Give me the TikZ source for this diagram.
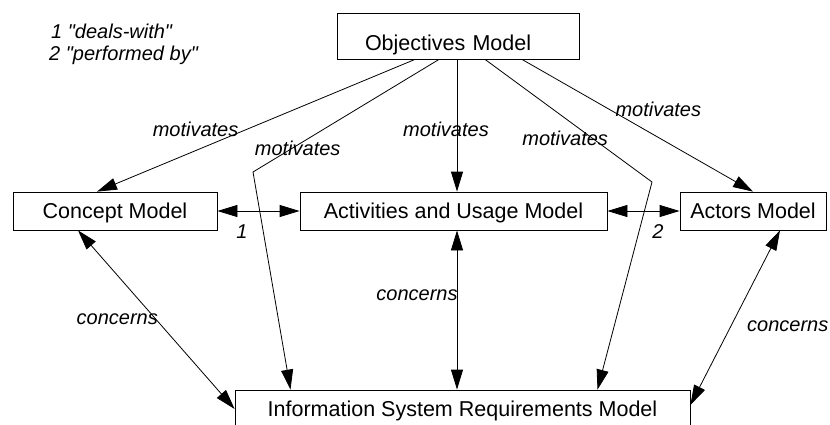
\documentclass[tikz,border=0pt]{standalone}
\usepackage{fontspec}
\setmainfont{Liberation Sans}[Ligatures=TeXOff]
\usepackage{tikz}
\usetikzlibrary{arrows.meta,positioning,calc}

\tikzset{
  box/.style={draw,rectangle,inner sep=0pt,line width=0.8pt,
    text height=15.4pt,text depth=0pt,font=\fontsize{21.5}{26}\selectfont},
  lbl/.style={inner sep=0pt,font=\fontsize{20}{19}\selectfont\itshape},
  conn/.style={line width=0.8pt}
}

\begin{document}
\begin{tikzpicture}[x=1pt,y=-1pt,>={Triangle[length=20pt,width=12pt]}]
      \useasboundingbox (0,0) rectangle (830,424);
      \clip (0,0) rectangle (830,424);

      \coordinate (lb) at (253,172);
      \coordinate (rb) at (652,182);

      \node[box,minimum width=242pt,minimum height=46pt,text height=29.4pt,
            text width=186pt,align=left] (obj) at (458,36) {Objectives Model};
      \node[box,minimum width=204pt,minimum height=38pt] (concept) at (115,211) {Concept Model};
      \node[box,minimum width=307pt,minimum height=38pt] (act) at (453.5,211) {Activities and Usage Model};
      \node[box,minimum width=146pt,minimum height=38pt] (actors) at (753,211) {Actors Model};
      \node[box,minimum width=455pt,minimum height=38pt] (isr) at (462.5,409) {Information System Requirements Model};

      \node[lbl,anchor=base west] (leg1) at (51,38) {1 "deals-with"};
      \node[lbl,anchor=base west] (leg2) at (49,60) {2 "performed by"};

      % motivates
      \draw[->,conn] ([xshift=-43pt]obj.south) --node[lbl,pos=.69,yshift=21pt] {motivates} ([xshift=-18pt]concept.north);
      \draw[->,conn] ([xshift=-19pt]obj.south) --node[lbl,pos=.76,yshift=-3pt] {motivates} (lb) -- ([xshift=-172pt]isr.north);
      \draw[->,conn] ([xshift=-1pt]obj.south) --node[lbl,pos=.53,xshift=-11pt] {motivates} ([xshift=-1pt]obj.south |- act.north);
      \draw[->,conn] ([xshift=27pt]obj.south) --node[lbl,pos=.48,yshift=-20pt] {motivates} (rb) -- ([xshift=135pt]isr.north);
      \draw[->,conn] ([xshift=64pt]obj.south) --node[lbl,pos=.59,yshift=28pt] {motivates} (actors.north);

      % 1 and 2
      \draw[<->,conn] (concept) --node[lbl,xshift=-16.5pt,yshift=-21pt] {1} (act);
      \draw[<->,conn] (act) --node[lbl,xshift=14.5pt,yshift=-21pt] {2} (actors);

      % concerns
      \draw[<->,conn] ([xshift=-37pt]concept.south) --node[lbl,pos=.5,xshift=-39pt] {concerns} (isr.west);
      \draw[<->,conn] ([xshift=3.5pt]act.south) --node[lbl,pos=.41,xshift=-40pt] {concerns} ([xshift=3.5pt]act.south |- isr.north);
      \draw[<->,conn] ([xshift=27pt]actors.south) --node[lbl,pos=.55,xshift=57pt] {concerns} ([yshift=4pt]isr.east);
\end{tikzpicture}
\end{document}
